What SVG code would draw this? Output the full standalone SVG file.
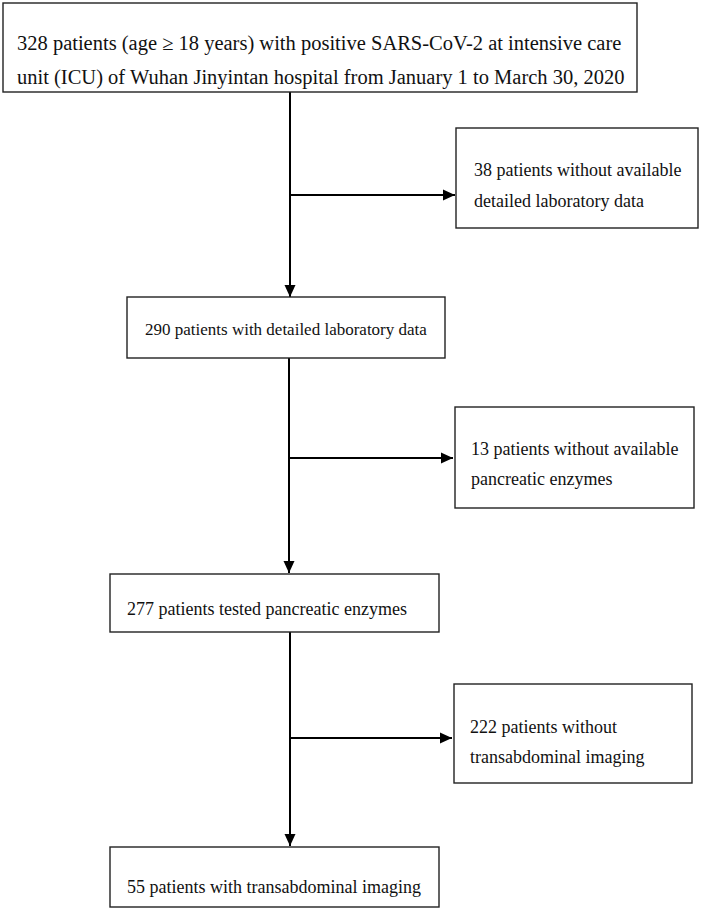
<svg xmlns="http://www.w3.org/2000/svg" width="702" height="916" viewBox="0 0 702 916">
<defs>
<marker id="ah" viewBox="0 0 12 12" refX="12" refY="6" markerWidth="12" markerHeight="12" markerUnits="userSpaceOnUse" orient="auto">
<path d="M0,0.5 L12,6 L0,11.5 Z" fill="#000"/>
</marker>
<style>
.box{fill:#fff;stroke:#222;stroke-width:1.4}
.t{font-family:"Liberation Serif","Times New Roman",serif;font-size:18px;fill:#111}
.big{font-size:20.5px}
.mid{font-size:17px}
.c{stroke:#000;stroke-width:2;fill:none}
</style>
</defs>
<rect width="702" height="916" fill="#fff"/>
<g id="connectors">
<line class="c" x1="290" y1="92" x2="290" y2="297" marker-end="url(#ah)"/>
<line class="c" x1="290" y1="195" x2="455" y2="195" marker-end="url(#ah)"/>
<line class="c" x1="289" y1="358" x2="289" y2="573" marker-end="url(#ah)"/>
<line class="c" x1="289" y1="458" x2="453" y2="458" marker-end="url(#ah)"/>
<line class="c" x1="290" y1="632" x2="290" y2="846" marker-end="url(#ah)"/>
<line class="c" x1="290" y1="738" x2="452" y2="738" marker-end="url(#ah)"/>
</g>
<g id="n1">
<rect class="box" x="3" y="3" width="634" height="89"/>
<text class="t big" x="17" y="50">328 patients (age ≥ 18 years) with positive SARS-CoV-2 at intensive care</text>
<text class="t big" x="17" y="84">unit (ICU) of Wuhan Jinyintan hospital from January 1 to March 30, 2020</text>
</g>
<g id="n2">
<rect class="box" x="456" y="128" width="242" height="100"/>
<text class="t" x="474" y="176">38 patients without available</text>
<text class="t" x="474" y="207">detailed laboratory data</text>
</g>
<g id="n3">
<rect class="box" x="127" y="297" width="318" height="61"/>
<text class="t mid" x="145" y="335">290 patients with detailed laboratory data</text>
</g>
<g id="n4">
<rect class="box" x="455" y="407" width="239" height="101"/>
<text class="t" x="471" y="455">13 patients without available</text>
<text class="t" x="471" y="485">pancreatic enzymes</text>
</g>
<g id="n5">
<rect class="box" x="110" y="574" width="329" height="58"/>
<text class="t" x="127" y="615">277 patients tested pancreatic enzymes</text>
</g>
<g id="n6">
<rect class="box" x="454" y="684" width="238" height="99"/>
<text class="t" x="470" y="733">222 patients without</text>
<text class="t" x="470" y="763">transabdominal imaging</text>
</g>
<g id="n7">
<rect class="box" x="110" y="847" width="329" height="60"/>
<text class="t" x="127" y="893">55 patients with transabdominal imaging</text>
</g>
</svg>
